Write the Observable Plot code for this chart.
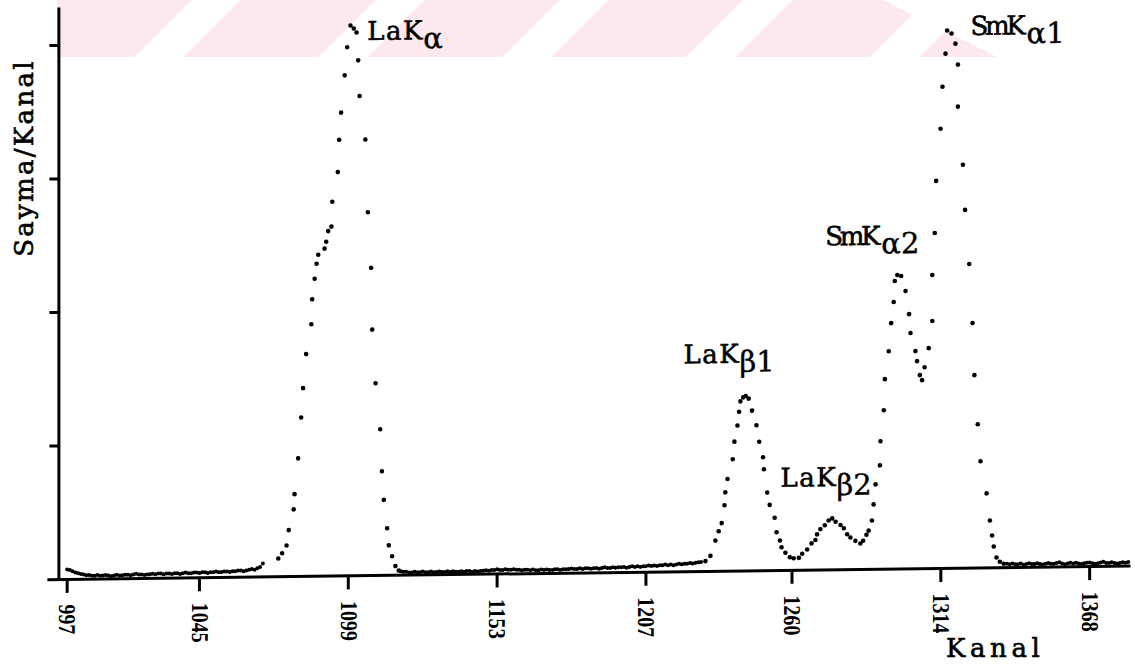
<!DOCTYPE html>
<html><head><meta charset="utf-8">
<script src="https://cdn.jsdelivr.net/npm/d3@7"></script>
<script src="https://cdn.jsdelivr.net/npm/@observablehq/plot@0.6"></script>
<style>
html,body{margin:0;padding:0;background:#fff;overflow:hidden;width:1135px;height:667px;}
#wm{position:absolute;left:57px;top:0;width:945px;height:57px;
  background:repeating-linear-gradient(135deg,#fde8ed 0 95px,#ffffff 95px 130px);
  clip-path:polygon(0 0,826px 0,940px 57px,0 57px);}
#chart{position:absolute;left:0;top:0;}
#chart svg{transform-origin:58.4px 579px;transform:skewY(-0.716deg);overflow:visible;}
.title{position:absolute;font-family:'DejaVu Serif',serif;font-size:26px;line-height:27px;
  color:#000;white-space:nowrap;-webkit-text-stroke:0.6px #000;}
#ylab{left:24px;top:158px;letter-spacing:2.3px;transform:translate(-50%,-50%) rotate(-90deg);}
#xlab{left:946px;top:635px;letter-spacing:4.6px;}
</style></head>
<body><div id="wm"></div><div id="chart"></div>
<div class="title" id="ylab">Sayma/Kanal</div><div class="title" id="xlab">Kanal</div>
<script>
// Tick labels on the channel axis
const xTicks = [997, 1045, 1099, 1153, 1207, 1260, 1314, 1368];
const yTicks = [1, 2, 3, 4];

// Baseline counts, one per channel
const base1Start = 997;
const base1 = [0.075,0.07,0.06,0.05,0.045,0.04,0.035,0.03,0.03,0.025,
  0.025,0.03,0.025,0.025,0.03,0.025,0.02,0.025,0.03,0.025,
  0.025,0.03,0.03,0.025,0.03,0.035,0.03,0.03,0.025,0.03,
  0.03,0.035,0.03,0.035,0.035,0.03,0.035,0.035,0.03,0.035,
  0.035,0.03,0.035,0.04,0.035,0.035,0.04,0.04,0.035,0.04,
  0.04,0.035,0.04,0.04,0.045,0.04,0.04,0.045,0.045,0.04,
  0.045,0.045,0.05,0.05,0.045,0.05,0.055,0.06,0.055,0.065,0.075,0.1];
const base2Start = 1118;
const base2 = [0.03,0.025,0.025,0.02,0.02,0.025,0.02,0.02,0.025,0.02,
  0.02,0.025,0.02,0.02,0.025,0.02,0.02,0.025,0.02,0.025,
  0.02,0.02,0.025,0.02,0.025,0.025,0.02,0.025,0.02,0.025,
  0.025,0.03,0.025,0.03,0.03,0.035,0.03,0.03,0.035,0.03,
  0.03,0.035,0.03,0.03,0.025,0.03,0.03,0.025,0.03,0.025,
  0.025,0.03,0.025,0.03,0.025,0.025,0.03,0.03,0.025,0.03,
  0.03,0.03,0.035,0.03,0.03,0.035,0.03,0.035,0.035,0.03,
  0.035,0.035,0.03,0.035,0.04,0.035,0.035,0.04,0.035,0.04,
  0.04,0.04,0.035,0.04,0.045,0.04,0.045,0.04,0.045,0.045,
  0.05,0.045,0.05,0.045,0.05,0.05,0.055,0.05,0.055,0.05,
  0.055,0.06,0.055,0.06,0.06,0.065,0.06,0.065,0.07,0.07];
const base3Start = 1338;
const base3 = [0.03,0.025,0.03,0.025,0.025,0.03,0.02,0.025,0.03,0.025,
  0.025,0.03,0.025,0.02,0.025,0.03,0.025,0.025,0.03,0.035,
  0.025,0.02,0.025,0.03,0.025,0.03,0.025,0.02,0.025,0.03,
  0.03,0.025,0.02,0.025,0.03,0.035,0.025,0.025,0.03,0.025,
  0.02,0.025,0.03,0.025,0.03];

// Peak regions: [kanal, sayma]
const lakAlpha = [[1073.6,0.137],[1075.0,0.176],[1076.6,0.233],[1077.4,0.348],[1079.2,0.503],[1079.5,0.617],
  [1080.8,0.885],[1081.9,1.191],[1082.6,1.41],[1083.7,1.665],[1085.6,1.888],[1085.9,2.075],[1086.8,2.228],
  [1087.5,2.34],[1088.1,2.408],[1090.4,2.453],[1091.0,2.504],[1091.7,2.584],[1092.9,2.617],[1093.2,2.803],
  [1095.2,3.025],[1095.7,3.267],[1096.4,3.47],[1097.7,3.749],[1098.6,3.959],[1099.8,4.122],[1101.0,4.099],
  [1102.0,4.069],[1102.6,3.86],[1103.1,3.593],[1105.2,3.266],[1106.1,2.721],[1107.3,2.306],[1107.7,1.842],
  [1108.9,1.44],[1110.6,1.095],[1111.2,0.78],[1111.9,0.566],[1113.1,0.353],[1113.7,0.225],[1114.9,0.143],
  [1116.1,0.069],[1117.3,0.035]];
const lakBeta = [[1228.6,0.077],[1230.4,0.116],[1232.2,0.23],[1233.4,0.30],[1234.5,0.36],[1235.5,0.494],
  [1235.8,0.59],[1236.6,0.69],[1238.5,0.837],[1239.1,0.969],[1240.2,1.09],[1240.8,1.193],[1241.3,1.27],
  [1242.3,1.30],[1243.2,1.31],[1244.3,1.29],[1245.5,1.20],[1247.1,1.09],[1248.1,0.966],[1249.5,0.85],
  [1249.8,0.76],[1251.0,0.585],[1251.9,0.492],[1253.7,0.395],[1254.4,0.287],[1255.6,0.224],[1256.2,0.174],
  [1257.6,0.132],[1259.2,0.098],[1260.6,0.09],[1262.5,0.093],[1263.7,0.123],[1265.5,0.155],[1267.1,0.20],
  [1268.5,0.225],[1269.1,0.267],[1270.3,0.306],[1271.9,0.335],[1273.3,0.37],[1274.6,0.385],[1275.8,0.36],
  [1277.6,0.335],[1278.8,0.31],[1280.0,0.265],[1281.2,0.24],[1283.0,0.215],[1284.8,0.195],[1285.8,0.215],
  [1287.0,0.26],[1287.8,0.29],[1289.0,0.366],[1289.6,0.486]];
const smK = [[1290.3,0.636],[1291.9,0.778],[1292.1,0.958],[1293.3,1.19],[1293.7,1.423],[1295.1,1.632],
  [1296.0,1.842],[1296.9,2.0],[1297.3,2.157],[1298.2,2.202],[1299.6,2.194],[1301.2,2.081],[1302.5,1.908],
  [1303.0,1.766],[1304.8,1.63],[1305.4,1.555],[1306.4,1.45],[1307.2,1.412],[1308.1,1.509],[1309.6,1.651],
  [1310.9,1.854],[1310.9,2.199],[1311.8,2.513],[1312.3,2.903],[1313.9,3.293],[1314.6,3.608],[1315.7,3.855],
  [1316.3,4.028],[1317.9,4.005],[1319.3,3.929],[1320.2,3.772],[1320.2,3.457],[1322.0,3.021],[1322.8,2.683],
  [1324.3,2.278],[1325.5,1.835],[1326.2,1.445],[1327.4,1.077],[1328.4,0.799],[1330.6,0.558],[1331.8,0.355],
  [1332.6,0.242],[1333.2,0.16],[1334.2,0.077],[1335.4,0.045],[1336.8,0.03]];

// Peak labels: main text, subscript, anchor (kanal, sayma)
const labelMain = ["LaK", "SmK", "SmK", "LaK", "LaK"];
const labelSub = ["α", "α1", "α2", "β1", "β2"];
const labelKanal = [1105.85, 1324.8, 1272.1, 1220.6, 1255.8];
const labelSayma = [4.074, 4.055, 2.493, 1.621, 0.689];

const baseline = [
  ...base1.map((v, i) => ({ch: base1Start + i, v})),
  ...base2.map((v, i) => ({ch: base2Start + i, v})),
  ...base3.map((v, i) => ({ch: base3Start + i, v}))
];
const peaks = [...lakAlpha, ...lakBeta, ...smK].map(([ch, v]) => ({ch, v}));
const labels = labelMain.map((m, i) => ({main: m, sub: labelSub[i], ch: labelKanal[i], v: labelSayma[i]}));

const typeFont = "'DejaVu Serif', serif";
const chart = Plot.plot({
  width: 1135, height: 680,
  marginLeft: 58.4, marginRight: 4.5, marginTop: 7.5, marginBottom: 101,
  style: {background: "none", overflow: "visible"},
  x: {domain: [994, 1383]},
  y: {domain: [0, 4.28]},
  marks: [
    Plot.axisY({ticks: yTicks, tickSize: 9, tickFormat: () => "", label: null, strokeWidth: 3}),
    Plot.axisX({ticks: xTicks, tickSize: 14, tickPadding: 11, tickRotate: 90, label: null, strokeWidth: 3,
      tickFormat: d => `${d}`, fontSize: 24, fontWeight: "bold", fontFamily: "'Liberation Serif', serif"}),
    Plot.ruleX([994], {strokeWidth: 3}),
    Plot.ruleY([0], {strokeWidth: 3, insetLeft: -11}),
    Plot.dot(baseline, {x: "ch", y: "v", r: 2, fill: "black", stroke: null}),
    Plot.dot(peaks, {x: "ch", y: "v", r: 2.3, fill: "black", stroke: null}),
    Plot.text(labels, {x: "ch", y: "v", text: "main", textAnchor: "start", fontSize: 26, fontFamily: typeFont,
      fill: "black", stroke: "black", strokeWidth: 0.6}),
    Plot.text(labels, {x: "ch", y: "v", text: "sub", textAnchor: "start", dx: 56, dy: 8, fontSize: 29,
      fontFamily: typeFont, fill: "black", stroke: "black", strokeWidth: 0.4})
  ]
});
document.getElementById("chart").appendChild(chart);
const svg = d3.select(chart);
svg.selectAll('g[aria-label="x-axis tick label"] text')
  .attr("font-family", "'Liberation Serif', serif").attr("font-weight", "bold").attr("font-size", 24)
  .attr("textLength", function () { return this.textContent.length * 10; })
  .attr("lengthAdjust", "spacingAndGlyphs");
svg.selectAll("text").filter(function () { return labelMain.includes(this.textContent); })
  .attr("textLength", function () { return this.textContent.length * 18.4; })
  .attr("lengthAdjust", "spacing");
</script></body></html>
